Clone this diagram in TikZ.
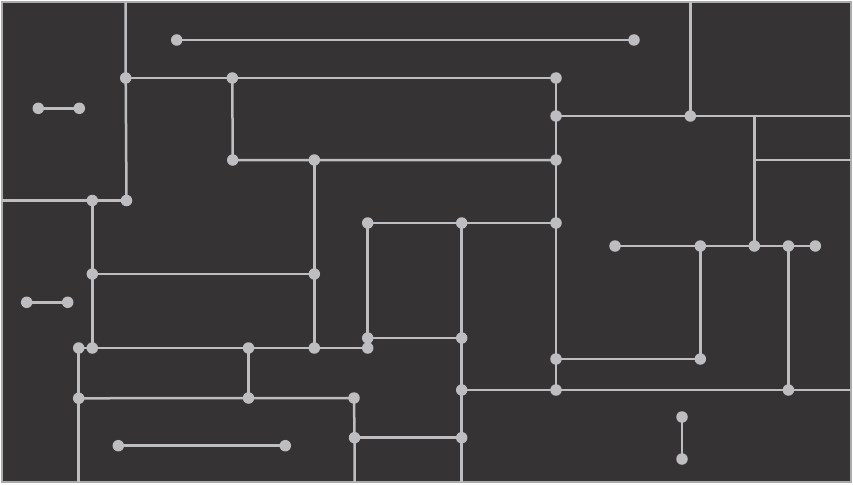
\documentclass[tikz,border=0pt]{standalone}
\begin{document}
\begin{tikzpicture}[x=1pt,y=-1pt,
  wire/.style={draw=linegray,line width=2.5pt},
  dot/.style={circle,fill=linegray,inner sep=0pt,minimum size=11.5pt}]
\definecolor{linegray}{RGB}{190,190,192}
\definecolor{panel}{RGB}{53,51,52}
% page and framed panel
\useasboundingbox (0,0) rectangle (853,484);
\fill[white] (0,0) rectangle (853,484);
\draw[fill=panel,draw=linegray!90!black,line width=2pt] (2,2) rectangle (851,482);

% free ends on the frame
\coordinate (t1) at (125.5,2);
\coordinate (t2) at (690.3,2);
\coordinate (l1) at (2,200.5);
\coordinate (r1) at (851,116);
\coordinate (r2) at (851,160);
\coordinate (r3) at (851,390);
\coordinate (q1) at (754.3,116);
\coordinate (q2) at (754.3,160);
\coordinate (bt1) at (78.7,482);
\coordinate (bt2) at (354.5,482);
\coordinate (bt3) at (461.7,482);

% junction points
\node[dot] (a1) at (125.7,78) {};
\node[dot] (a2) at (126.5,200.5) {};
\node[dot] (a3) at (92.3,200.5) {};
\node[dot] (a4) at (92.3,274) {};
\node[dot] (a5) at (92.3,348) {};
\node[dot] (a6) at (78.7,348) {};
\node[dot] (a7) at (78.7,398.3) {};
\node[dot] (b1) at (38.3,108.3) {};
\node[dot] (b2) at (79.3,108.3) {};
\node[dot] (c1) at (176.7,40) {};
\node[dot] (c2) at (634,40) {};
\node[dot] (d1) at (232.3,78) {};
\node[dot] (d2) at (556,78) {};
\node[dot] (d3) at (232.7,160) {};
\node[dot] (d4) at (314.3,160) {};
\node[dot] (d5) at (556,160) {};
\node[dot] (d6) at (556,116) {};
\node[dot] (d7) at (690.3,116) {};
\node[dot] (e1) at (314.3,274) {};
\node[dot] (e2) at (314.3,348) {};
\node[dot] (e3) at (248.5,348) {};
\node[dot] (e4) at (367.7,348) {};
\node[dot] (f1) at (367.7,223) {};
\node[dot] (f2) at (461.7,223) {};
\node[dot] (f3) at (556,223) {};
\node[dot] (f4) at (367.7,338) {};
\node[dot] (f5) at (461.7,338) {};
\node[dot] (f6) at (461.7,390) {};
\node[dot] (f7) at (461.7,437.7) {};
\node[dot] (f8) at (556,359) {};
\node[dot] (f9) at (556,390) {};
\node[dot] (g1) at (248.5,398) {};
\node[dot] (g2) at (354,398) {};
\node[dot] (g3) at (354.5,437.7) {};
\node[dot] (h1) at (118.3,445.7) {};
\node[dot] (h2) at (285.3,445.7) {};
\node[dot] (i1) at (26.7,302.3) {};
\node[dot] (i2) at (67.7,302.3) {};
\node[dot] (j1) at (615,246) {};
\node[dot] (j2) at (700.3,246) {};
\node[dot] (j3) at (754.3,246) {};
\node[dot] (j4) at (788.4,246) {};
\node[dot] (j5) at (815.3,246) {};
\node[dot] (j6) at (700.3,359) {};
\node[dot] (j7) at (788.4,390) {};
\node[dot] (k1) at (682,417) {};
\node[dot] (k2) at (682,459) {};

% wires
\begin{scope}[every path/.style={wire}]
\path (t1) -- (a1.center) -- (a2.center);
\path (l1) -- (a3.center) -- (a2.center);
\path (a3.center) -- (a4.center) -- (a5.center);
\path (a6.center) -- (a5.center) -- (e3.center) -- (e2.center) -- (e4.center);
\path (a6.center) -- (a7.center) -- (bt1);
\path (a7.center) -- (g1.center) -- (g2.center) -- (g3.center) -- (bt2);
\path (e3.center) -- (g1.center);
\path (g3.center) -- (f7.center);
\path (b1.center) -- (b2.center);
\path (c1.center) -- (c2.center);
\path (h1.center) -- (h2.center);
\path (i1.center) -- (i2.center);
\path (a1.center) -- (d1.center) -- (d2.center);
\path (d1.center) -- (d3.center) -- (d4.center) -- (d5.center);
\path (d4.center) -- (e1.center) -- (e2.center);
\path (a4.center) -- (e1.center);
\path (d2.center) -- (d6.center) -- (d5.center) -- (f3.center) -- (f8.center) -- (f9.center);
\path (d6.center) -- (d7.center) -- (r1);
\path (t2) -- (d7.center);
\path (q1) -- (q2) -- (j3.center);
\path (q2) -- (r2);
\path (f1.center) -- (f2.center) -- (f3.center);
\path (f1.center) -- (f4.center) -- (f5.center);
\path (f2.center) -- (f5.center) -- (f6.center) -- (f7.center) -- (bt3);
\path (f6.center) -- (f9.center) -- (j7.center) -- (r3);
\path (f8.center) -- (j6.center) -- (j2.center);
\path (j1.center) -- (j2.center) -- (j3.center) -- (j4.center) -- (j5.center);
\path (j4.center) -- (j7.center);
\path (k1.center) -- (k2.center);
\end{scope}
\end{tikzpicture}
\end{document}
